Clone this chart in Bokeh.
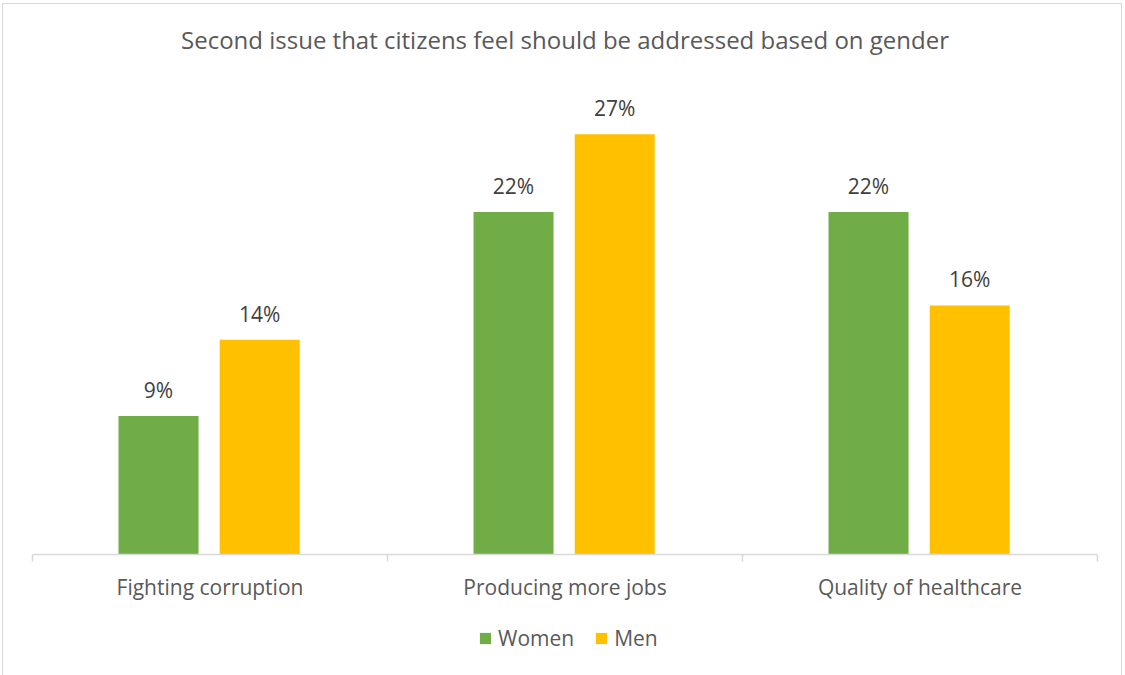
import numpy as np
from bokeh.plotting import figure
from bokeh.layouts import column
from bokeh.models import ColumnDataSource, FixedTicker, Legend, LegendItem, LabelSet, Range1d
from bokeh.core.properties import value
from bokeh.embed import file_html
from bokeh.resources import INLINE

title = "Second issue that citizens feel should be addressed based on gender"
categories = ["Fighting corruption", "Producing more jobs", "Quality of healthcare"]
series = ["Women", "Men"]
women = [8.9, 22.0, 22.0]
men = [13.8, 27.0, 16.0]
women_labels = ["9%", "22%", "22%"]
men_labels = ["14%", "27%", "16%"]

GREEN = "#70AD47"
GOLD = "#FFC000"
FONT = "Open Sans"
W = 1118

idx = np.arange(len(categories))
src_w = ColumnDataSource(dict(x=idx + 0.5 - 0.145, top=women, label=women_labels))
src_m = ColumnDataSource(dict(x=idx + 0.5 + 0.14, top=men, label=men_labels))

# title strip
pt = figure(width=W, height=70, output_backend="svg", toolbar_location=None,
            x_range=Range1d(0, 1), y_range=Range1d(0, 1),
            x_axis_location=None, y_axis_location=None,
            min_border_top=56, min_border_bottom=0, min_border_left=0, min_border_right=0)
pt.outline_line_color = None
pt.xgrid.visible = False
pt.ygrid.visible = False
pt.title.text = title
pt.title.align = "center"
pt.title.text_font = FONT
pt.title.text_font_size = "24px"
pt.title.text_font_style = "normal"
pt.title.text_color = "#595959"
pt.title.standoff = 10

p = figure(width=W, height=529, output_backend="svg", toolbar_location=None,
           x_range=Range1d(0, len(categories)), y_range=Range1d(0, 30),
           y_axis_location=None,
           min_border_left=29, min_border_right=24, min_border_top=13, min_border_bottom=47)
p.outline_line_color = None
p.xgrid.visible = False
p.ygrid.visible = False

rw = p.vbar(x="x", top="top", width=0.2254, bottom=0, source=src_w,
            fill_color=GREEN, line_color=None)
rm = p.vbar(x="x", top="top", width=0.2254, bottom=0, source=src_m,
            fill_color=GOLD, line_color=None)

for src in (src_w, src_m):
    p.add_layout(LabelSet(x="x", y="top", text="label", source=src, y_offset=18,
                          text_align="center", text_baseline="alphabetic",
                          text_font=value(FONT), text_font_size=value("21px"),
                          text_color="#404040"))

ax = p.xaxis[0]
ax.ticker = FixedTicker(ticks=list(idx + 0.5), minor_ticks=list(range(len(categories) + 1)))
ax.major_label_overrides = {float(i + 0.5): c for i, c in enumerate(categories)}
ax.major_tick_out = 0
ax.major_tick_in = 0
ax.minor_tick_out = 7
ax.minor_tick_in = 0
ax.minor_tick_line_color = "#D9D9D9"
ax.minor_tick_line_width = 1.5
ax.axis_line_color = "#D9D9D9"
ax.axis_line_width = 1.5
ax.major_label_text_font = FONT
ax.major_label_text_font_size = "21px"
ax.major_label_text_color = "#595959"
ax.major_label_standoff = 11

# legend strip below the chart (hidden copies of the series renderers feed the legend)
pl = figure(width=W, height=84, output_backend="svg", toolbar_location=None,
            x_range=Range1d(0, 1), y_range=Range1d(0, 1),
            x_axis_location=None, y_axis_location=None, min_border=0)
pl.outline_line_color = None
pl.xgrid.visible = False
pl.ygrid.visible = False
lw = pl.vbar(x="x", top="top", width=0.2254, source=src_w, fill_color=GREEN,
             line_color=None, visible=False)
lm = pl.vbar(x="x", top="top", width=0.2254, source=src_m, fill_color=GOLD,
             line_color=None, visible=False)
legend = Legend(items=[LegendItem(label=series[0], renderers=[lw]),
                       LegendItem(label=series[1], renderers=[lm])],
                orientation="horizontal", location=(446, 35),
                glyph_width=14, glyph_height=14, label_standoff=6, spacing=20,
                label_text_font=FONT, label_text_font_size="21px",
                label_text_color="#595959", border_line_color=None,
                background_fill_alpha=0, padding=0, margin=0,
                inactive_fill_alpha=0)
pl.add_layout(legend, "center")

layout = column(pt, p, pl, spacing=0)
layout.margin = (3, 0, 0, 2)
layout.styles = {"border": "1px solid #D9D9D9"}

open("out.html", "w").write(file_html(layout, INLINE))
